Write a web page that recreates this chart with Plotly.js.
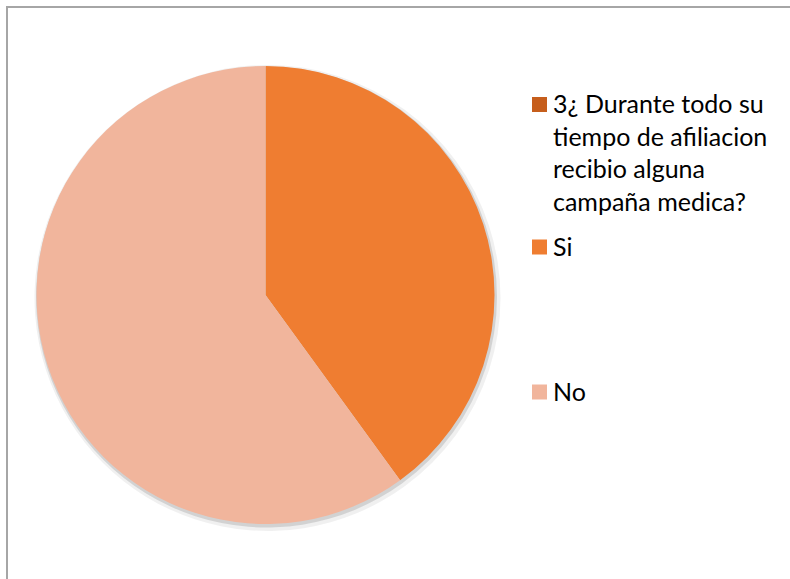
<!DOCTYPE html>
<html>
<head>
<meta charset="utf-8">
<script src="https://cdn.plot.ly/plotly-3.0.1.min.js"></script>
<style>
  html, body { margin: 0; padding: 0; background: #ffffff; }
  #wrap { position: relative; width: 790px; height: 579px; overflow: hidden; }
  #chart { position: absolute; left: 0; top: 0; width: 790px; height: 579px; }
  #frame { position: absolute; left: 6px; top: 6px; width: 800px; height: 600px;
           border-left: 2px solid #A6A6A6; border-top: 2px solid #A6A6A6; pointer-events: none; }
</style>
</head>
<body>
<div id="wrap">
  <div id="chart"></div>
  <div id="frame"></div>
</div>
<script>
// Data
const categories = [
  "3¿ Durante todo su<br>tiempo de afiliacion<br>recibio alguna<br>campaña medica?",
  "Si",
  "No"
];
const values = [0, 40, 60];
const sliceColors = ["#C65E1C", "#EF7D31", "#F1B59C"];

const W = 790, H = 579;
const cx = 265.5, cy = 295, r = 229;

function pieDomain(dx, dy, extra) {
  const rr = r + extra;
  return {
    x: [(cx + dx - rr) / W, (cx + dx + rr) / W],
    y: [(H - (cy + dy + rr)) / H, (H - (cy + dy - rr)) / H]
  };
}

// soft shadow layers (same data, grey)
const shadow1 = {
  type: "pie", labels: categories, values: values, sort: false,
  direction: "clockwise", rotation: 0, textinfo: "none", hoverinfo: "skip",
  marker: { colors: ["rgba(0,0,0,0.06)", "rgba(0,0,0,0.06)", "rgba(0,0,0,0.06)"], line: { width: 0 } },
  domain: pieDomain(2, 3, 4), showlegend: false
};
const shadow2 = {
  type: "pie", labels: categories, values: values, sort: false,
  direction: "clockwise", rotation: 0, textinfo: "none", hoverinfo: "skip",
  marker: { colors: ["rgba(0,0,0,0.12)", "rgba(0,0,0,0.12)", "rgba(0,0,0,0.12)"], line: { width: 0 } },
  domain: pieDomain(1, 2, 1.5), showlegend: false
};

const trace = {
  type: "pie",
  labels: categories,
  values: values,
  sort: false,
  direction: "clockwise",
  rotation: 0,
  textinfo: "none",
  hoverinfo: "label+value+percent",
  marker: { colors: sliceColors, line: { width: 0 } },
  domain: pieDomain(0, 0, 0),
  showlegend: false
};

// legend (built from the categories / colours)
const legendCenters = [151.5, 246, 391];   // vertical centre of each entry block (px)
const legendSquareY = [104.5, 247, 392];
const legendFont = { family: "Lato, 'Open Sans', sans-serif", size: 25, color: "#000000" };
const annotations = categories.map((c, i) => ({
  xref: "paper", yref: "paper",
  x: 551 / W, y: 1 - legendCenters[i] / H,
  xanchor: "left", yanchor: "middle",
  align: "left", showarrow: false,
  text: c, font: legendFont
}));
const shapes = categories.map((c, i) => ({
  type: "rect", xref: "paper", yref: "paper",
  x0: 532 / W, x1: 547 / W,
  y0: 1 - (legendSquareY[i] + 7.5) / H, y1: 1 - (legendSquareY[i] - 7.5) / H,
  fillcolor: sliceColors[i], line: { width: 0 }
}));

const layout = {
  width: W,
  height: H,
  margin: { l: 0, r: 0, t: 0, b: 0 },
  paper_bgcolor: "#ffffff",
  font: legendFont,
  showlegend: false,
  annotations: annotations,
  shapes: shapes
};

Plotly.newPlot("chart", [shadow1, shadow2, trace], layout, { displayModeBar: false, staticPlot: true });
</script>
</body>
</html>
